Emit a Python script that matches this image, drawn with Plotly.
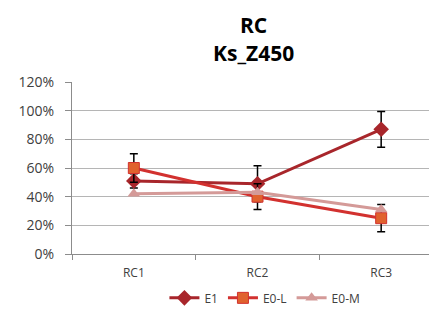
import plotly.graph_objects as go

categories = ["RC1", "RC2", "RC3"]
e1 = [51, 49, 87]
e1_err = [5, 12.5, 12.5]
e0l = [60, 40, 25]
e0l_err = [10, 9, 9.5]
e0m = [42, 43, 31]
y_ticks = [0, 20, 40, 60, 80, 100, 120]
y_tick_labels = ["0%", "20%", "40%", "60%", "80%", "100%", "120%"]
title_lines = ["RC", "Ks_Z450"]

fig = go.Figure()
fig.add_trace(go.Scatter(
    x=categories, y=e1, name="E1", mode="lines+markers",
    line=dict(color="#A8262B", width=3),
    marker=dict(symbol="diamond", size=12, color="#A8262B"),
    error_y=dict(type="data", array=e1_err, color="black", thickness=1.5, width=4),
))
fig.add_trace(go.Scatter(
    x=categories, y=e0l, name="E0-L", mode="lines+markers",
    line=dict(color="#D2312F", width=3),
    marker=dict(symbol="square", size=11, color="#E0622E", line=dict(color="#D2312F", width=1)),
    error_y=dict(type="data", array=e0l_err, color="black", thickness=1.5, width=4),
))
fig.add_trace(go.Scatter(
    x=categories, y=e0m, name="E0-M", mode="lines+markers",
    line=dict(color="#D49A98", width=3),
    marker=dict(symbol="triangle-up", size=11, color="#D49A98"),
))

title_y = [1.33, 1.168]
fig.update_layout(
    width=437, height=322,
    margin=dict(l=64, r=2, t=74, b=76),
    paper_bgcolor="white", plot_bgcolor="white",
    font=dict(family="Open Sans, Liberation Sans, sans-serif", size=12, color="#404040"),
    showlegend=True,
    legend=dict(orientation="h", x=0.52, xanchor="center", y=-0.255, yanchor="middle",
                font=dict(size=12, color="#404040"), tracegroupgap=0),
    annotations=[dict(
        text=f"<b>{t}</b>", xref="paper", yref="paper", x=0.488, y=yy,
        xanchor="center", yanchor="middle", showarrow=False, borderpad=0,
        font=dict(size=21, color="black"),
    ) for t, yy in zip(title_lines, title_y)],
)
fig.update_xaxes(
    type="category", range=[-0.5, 2.5], tickson="boundaries", ticks="outside", ticklen=5,
    tickcolor="#8c8c8c", showline=True, linecolor="#8c8c8c", linewidth=1, showgrid=False,
    tickfont=dict(size=12, color="#404040"), ticklabelstandoff=8,
)
fig.update_yaxes(
    range=[0, 120], tickvals=y_ticks, ticktext=y_tick_labels, ticks="outside", ticklen=6,
    tickcolor="#8c8c8c", showline=True, linecolor="#8c8c8c", linewidth=1,
    showgrid=True, gridcolor="#b5b5b5", gridwidth=1, zeroline=False,
    tickfont=dict(size=14, color="#404040"), ticklabelstandoff=8,
)

fig.write_html("out.html")
